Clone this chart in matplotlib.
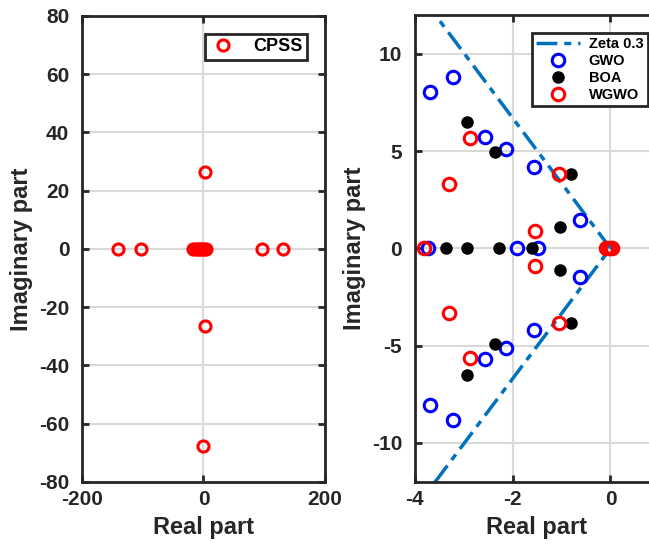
import numpy as np
from matplotlib import pyplot as plt

plt.rcParams['font.family'] = ['Liberation Sans', 'DejaVu Sans']
plt.rcParams['font.weight'] = 'bold'
plt.rcParams['axes.unicode_minus'] = False

# left panel: CPSS eigenvalues
cpss_re = [-140, -103, -17, -13, -9, -5, -2, 1, 4, 97, 131, 3, 3, 0]
cpss_im = [0, 0, 0, 0, 0, 0, 0, 0, 0, 0, 0, 26.4, -26.4, -67.8]

# right panel: zoomed eigenvalues
zeta_re = [-4.0, 0.0, -4.0]
zeta_im = [13.4, 0.0, -13.4]

gwo_re = [-3.68, -3.22, -2.56, -2.13, -1.57, -0.63,
          -3.68, -3.22, -2.56, -2.13, -1.57, -0.63,
          -3.72, -1.91, -1.48]
gwo_im = [8.03, 8.82, 5.70, 5.11, 4.18, 1.47,
          -8.03, -8.82, -5.70, -5.11, -4.18, -1.47,
          0, 0, 0]

boa_re = [-2.93, -2.35, -0.80, -1.04,
          -2.93, -2.35, -0.80, -1.04,
          -3.37, -2.93, -2.27, -1.61]
boa_im = [6.50, 4.93, 3.82, 1.10,
          -6.50, -4.93, -3.82, -1.10,
          0, 0, 0, 0]

wgwo_re = [-2.88, -3.29, -1.06, -1.55,
           -2.88, -3.29, -1.06, -1.55,
           -3.80, -0.10, -0.03, 0.04]
wgwo_im = [5.65, 3.32, 3.82, 0.90,
           -5.65, -3.32, -3.82, -0.90,
           0, 0, 0, 0]

edge = '#262626'
fig = plt.figure(figsize=(6.49, 5.47), dpi=100)
ax1 = fig.add_axes([0.126, 0.119, 0.375, 0.852])
# right axes runs past the figure edge (the original was cropped)
ax2 = fig.add_axes([0.639, 0.119, 0.377, 0.854])

for ax in (ax1, ax2):
    ax.grid(True, color='#d9d9d9', linewidth=1.5)
    ax.set_axisbelow(True)
    for s in ax.spines.values():
        s.set_linewidth(2)
        s.set_color(edge)
    ax.tick_params(direction='in', length=5, width=2, colors=edge,
                   labelsize=15, top=True, right=True)
    ax.tick_params(axis='y', pad=9)
    ax.tick_params(axis='x', pad=6)
    ax.set_xlabel('Real part', fontsize=17, fontweight='bold', color=edge, labelpad=5)
    ax.set_ylabel('Imaginary part', fontsize=17, fontweight='bold', color=edge, labelpad=4)

ax1.plot(cpss_re, cpss_im, 'o', mfc='none', mec='red', ms=8, mew=2.2,
         label='CPSS', linestyle='none')
ax1.set_xlim(-200, 200)
ax1.set_ylim(-80, 80)
ax1.set_xticks([-200, 0, 200])
ax1.set_yticks(np.arange(-80, 81, 20))
leg1 = ax1.legend(loc='upper right', fontsize=13, fancybox=False,
                  framealpha=1, edgecolor=edge, handlelength=1.4,
                  handletextpad=1.0, borderaxespad=1.0, borderpad=0.25)
leg1.get_frame().set_linewidth(2)

ax2.plot(zeta_re, zeta_im, linestyle='-.', color='#0072BD', lw=2.5,
         dashes=(6, 2, 2, 2), label='Zeta 0.3')
ax2.plot(gwo_re, gwo_im, 'o', mfc='none', mec='blue', ms=9, mew=2.2,
         linestyle='none', label='GWO')
ax2.plot(boa_re, boa_im, 'o', mfc='black', mec='black', ms=8,
         linestyle='none', label='BOA')
ax2.plot(wgwo_re, wgwo_im, 'o', mfc='none', mec='red', ms=9, mew=2.2,
         linestyle='none', label='WGWO')
ax2.set_xlim(-4, 1.0)
ax2.set_ylim(-12, 12)
ax2.set_xticks([-4, -2, 0])
ax2.set_yticks([-10, -5, 0, 5, 10])
leg2 = ax2.legend(loc='upper right', bbox_to_anchor=(0.998, 0.94),
                  bbox_transform=fig.transFigure, borderaxespad=0,
                  fontsize=10.5, fancybox=False,
                  framealpha=1, edgecolor=edge, handlelength=3.0,
                  handletextpad=0.6, labelspacing=0.2, borderpad=0.3)
leg2.get_frame().set_linewidth(2)
for t in leg2.get_texts() + leg1.get_texts():
    t.set_fontweight('bold')

fig.savefig('out.png', dpi=100)
